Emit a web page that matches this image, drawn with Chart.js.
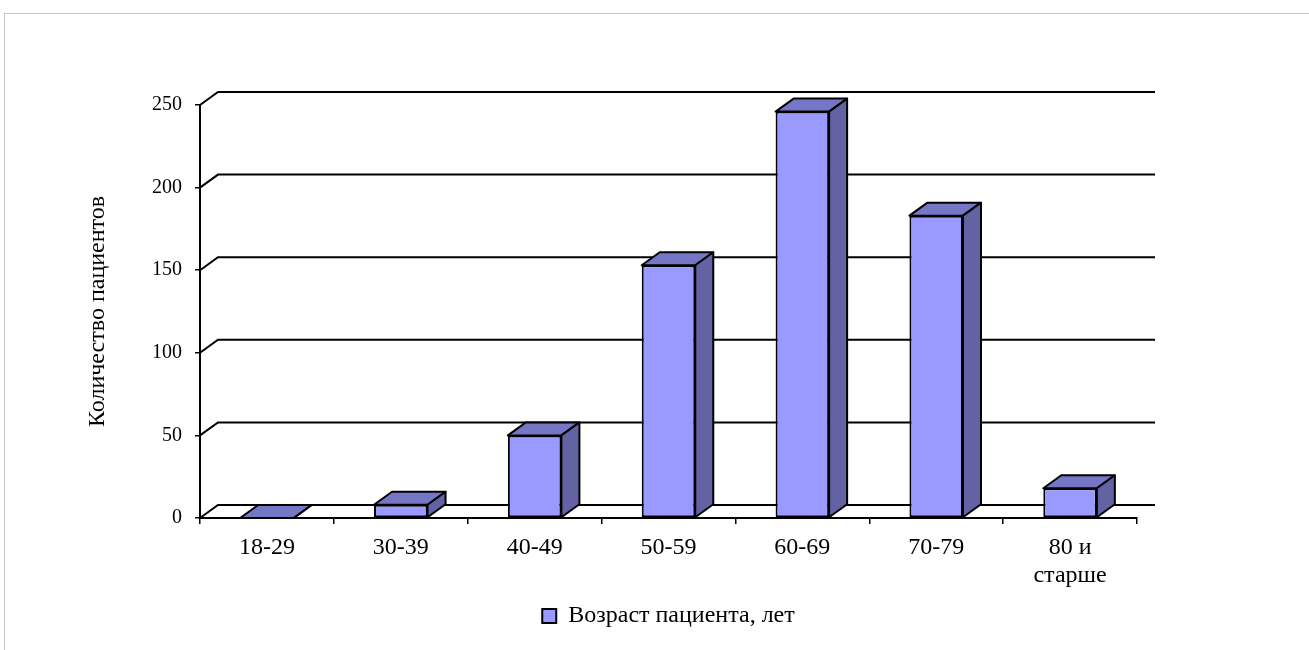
<!DOCTYPE html>
<html>
<head>
<meta charset="utf-8">
<script src="https://cdn.jsdelivr.net/npm/chart.js@4.4.1/dist/chart.umd.min.js"></script>
<style>
  html, body { margin: 0; padding: 0; background: #fff; overflow: hidden; }
  #frame { position: absolute; left: 4px; top: 13px; width: 1400px; height: 700px; border: 1px solid #c8c8c8; }
  #wrap { position: absolute; left: 0; top: 0; width: 1309px; height: 650px; }
</style>
</head>
<body>
<div id="frame"></div>
<div id="wrap"><canvas id="myChart" width="1309" height="650"></canvas></div>
<script>
const ageGroups = ['18-29', '30-39', '40-49', '50-59', '60-69', '70-79', ['80 и', 'старше']];
const patients = [0, 8, 50, 153, 246, 183, 18];
const yTicks = [0, 50, 100, 150, 200, 250];

const depthX = 18, depthY = -13;
const faceFront = '#9999ff', faceTop = '#7676c6', faceSide = '#6363a3';

// back wall grid + diagonals, then top/side faces of the bars
const fake3d = {
  id: 'fake3d',
  beforeDatasetsDraw(chart) {
    const c = chart.ctx, y = chart.scales.y, a = chart.chartArea;
    c.save();
    c.strokeStyle = '#000';
    c.lineWidth = 2;
    yTicks.forEach(v => {
      const py = y.getPixelForValue(v);
      c.beginPath();
      c.moveTo(a.left, py);
      c.lineTo(a.left + depthX, py + depthY);
      c.lineTo(a.right + depthX, py + depthY);
      c.stroke();
    });
    c.restore();
  },
  afterDatasetsDraw(chart) {
    const c = chart.ctx;
    const bars = chart.getDatasetMeta(0).data;
    c.save();
    c.strokeStyle = '#000';
    c.lineWidth = 2;
    c.lineJoin = 'round';
    bars.forEach(b => {
      const p = b.getProps(['x', 'y', 'base', 'width'], true);
      const l = p.x - p.width / 2, r = p.x + p.width / 2, t = p.y, bt = p.base;
      c.fillStyle = faceTop;
      c.beginPath();
      c.moveTo(l, t); c.lineTo(l + depthX, t + depthY); c.lineTo(r + depthX, t + depthY); c.lineTo(r, t);
      c.closePath(); c.fill(); c.stroke();
      c.fillStyle = faceSide;
      c.beginPath();
      c.moveTo(r, t); c.lineTo(r + depthX, t + depthY); c.lineTo(r + depthX, bt + depthY); c.lineTo(r, bt);
      c.closePath(); c.fill(); c.stroke();
    });
    c.restore();
  }
};

const ctx = document.getElementById('myChart');

new Chart(ctx, {
  type: 'bar',
  data: {
    labels: ageGroups,
    datasets: [{
      label: 'Возраст пациента, лет',
      data: patients,
      backgroundColor: faceFront,
      borderColor: '#000',
      borderWidth: 2,
      borderSkipped: false,
      barPercentage: 0.4,
      categoryPercentage: 1
    }]
  },
  options: {
    responsive: false,
    animation: false,
    devicePixelRatio: 1,
    layout: { padding: { left: 79, right: 172, top: 105, bottom: 12 } },
    plugins: {
      tooltip: { enabled: false },
      legend: {
        position: 'bottom',
        fullSize: false,
        labels: {
          color: '#000',
          font: { family: 'Liberation Serif', size: 24 },
          boxWidth: 14,
          boxHeight: 14,
          padding: 8
        }
      }
    },
    scales: {
      x: {
        grid: { display: true, drawOnChartArea: false, offset: true, color: '#000', lineWidth: 1.5, tickLength: 6 },
        border: { display: true, color: '#000', width: 2 },
        ticks: { color: '#000', font: { family: 'Liberation Serif', size: 24, lineHeight: 1.15 }, padding: 10, maxRotation: 0, autoSkip: false },
        afterFit(s) { s.height = 78; }
      },
      y: {
        min: 0,
        max: 250,
        ticks: { stepSize: 50, color: '#000', font: { family: 'Liberation Serif', size: 20 }, padding: 13 },
        grid: { display: true, drawOnChartArea: false, color: '#000', lineWidth: 1.5, tickLength: 5 },
        border: { display: true, color: '#000', width: 2 },
        title: { display: true, text: 'Количество пациентов', color: '#000', font: { family: 'Liberation Serif', size: 24 }, padding: 4 },
        afterFit(s) { s.width = 121; }
      }
    }
  },
  plugins: [fake3d]
});
</script>
</body>
</html>
